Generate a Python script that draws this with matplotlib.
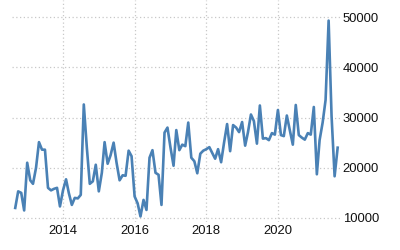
import pandas as pd
import matplotlib
matplotlib.use("Agg")
import matplotlib.pyplot as plt
import matplotlib.dates as mdates

# monthly values, Sep 2012 - Sep 2021
start_month = "2012-09-01"
values = [
    12000, 15300, 15000, 11500, 21000, 17500, 16800, 20000, 25100, 23600,
    23600, 16000, 15500, 15800, 16000, 12300, 15500, 17700, 15000, 12600,
    14000, 13900, 14600, 32600, 24000, 16800, 17300, 20600, 15300, 19000,
    25100, 20800, 22500, 25000, 21000, 17500, 18500, 18400, 23400, 22300,
    14300, 12900, 10300, 13600, 11600, 22000, 23500, 19000, 18600, 12600,
    27000, 28000, 24000, 20400, 27500, 23500, 24600, 24300, 29000, 22000,
    21300, 18900, 22800, 23400, 23700, 24100, 23000, 21800, 23700, 21100,
    25000, 28700, 23300, 28500, 28000, 27100, 29100, 24400, 27000, 30600,
    29300, 24800, 32400, 25800, 25900, 25500, 26900, 26600, 31500, 26500,
    26300, 30400, 27500, 24600, 32500, 26500, 26000, 25600, 26900, 26600,
    32100, 18700, 25500, 29000, 33500, 49300, 30300, 18300, 24000,
]
y_ticks = [10000, 20000, 30000, 40000, 50000]
x_ticks = ["2014", "2016", "2018", "2020"]

dates = pd.date_range(start_month, periods=len(values), freq="MS")

fig = plt.figure(figsize=(4, 2.5), dpi=100)
ax = fig.add_axes([0.03, 0.112, 0.82, 0.888])

ax.plot(dates, values, color="#4a81b5", lw=1.9, solid_joinstyle="round")

ax.set_xlim(pd.Timestamp("2012-07-30"), pd.Timestamp("2021-09-25"))
ax.set_ylim(9200, 53400)

ax.set_xticks([pd.Timestamp(f"{y}-01-01") for y in x_ticks])
ax.xaxis.set_major_formatter(mdates.DateFormatter("%Y"))
ax.set_yticks(y_ticks)
ax.yaxis.tick_right()

font = dict(family=["Liberation Sans Narrow", "Liberation Sans"], size=9.4)
for lab in ax.get_xticklabels() + ax.get_yticklabels():
    lab.set_fontfamily(font["family"])
    lab.set_fontsize(font["size"])
    lab.set_color("#111111")

ax.tick_params(axis="both", length=0)
ax.tick_params(axis="x", pad=2)
ax.tick_params(axis="y", pad=2)

for s in ax.spines.values():
    s.set_visible(False)
ax.grid(True, linestyle=(0, (1, 2)), color="#c8c8c8", lw=0.9)

fig.savefig("out.png", dpi=100)
